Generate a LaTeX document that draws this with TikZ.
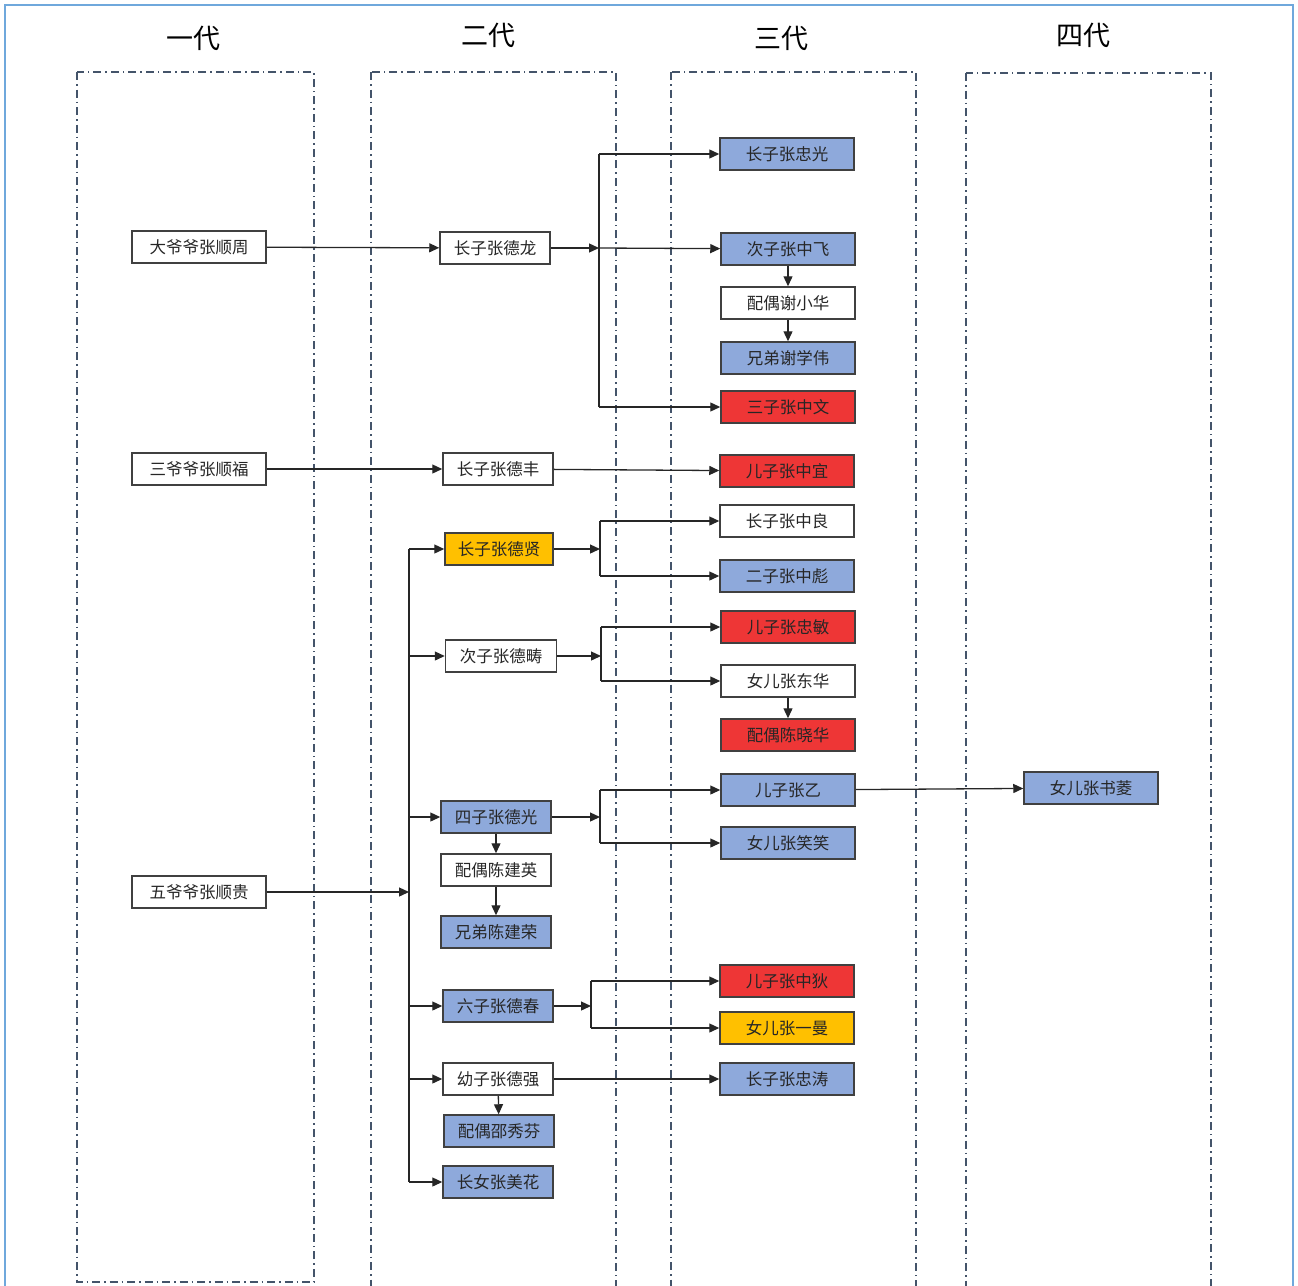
\documentclass[tikz,border=0pt]{standalone}
\usepackage{fontspec}
\setmainfont{Noto Sans CJK SC}
\usetikzlibrary{arrows.meta}
\definecolor{famblue}{HTML}{8EA9DB}
\definecolor{famred}{HTML}{EE3636}
\definecolor{famgold}{HTML}{FFC000}
\definecolor{genline}{HTML}{44546A}
\definecolor{frameblue}{HTML}{6FA8DC}
\begin{document}
\begin{tikzpicture}[x=1pt,y=-1pt,
	person/.style={draw=black!75,line width=1.5pt,minimum height=32pt,inner sep=0pt,text=black!85,font=\fontsize{16.5}{18}\selectfont},
	gen1/.style={person,minimum width=134pt},
	gen2/.style={person,minimum width=110pt},
	gen3/.style={person,minimum width=134pt},
	bluefill/.style={fill=famblue},
	redfill/.style={fill=famred},
	goldfill/.style={fill=famgold},
	genlabel/.style={font=\fontsize{27}{30}\selectfont},
	genbox/.style={genline,line width=1.3pt,dash pattern=on 8pt off 4pt on 1.5pt off 4pt},
	>={Triangle[length=10pt,width=9pt]}]
\useasboundingbox (0,0) rectangle (1298,1285);
\clip (0,0) rectangle (1298,1285);
\draw[frameblue,line width=1.5pt] (5,1300) -- (5,5) -- (1293,5) -- (1293,1300);

\draw[genbox] (77,72) rectangle (314,1282);
\draw[genbox] (371,72) rectangle (616,1310);
\draw[genbox] (671,72) rectangle (916,1310);
\draw[genbox] (966,73) rectangle (1211,1310);

\path (193,38) node[genlabel] (g1) {一代}
		(488,35) node[genlabel] (g2) {二代}
		(781,38) node[genlabel] (g3) {三代}
		(1083,35) node[genlabel] (g4) {四代}
		(199,247) node[gen1] (sz) {大爷爷张顺周}
		(199,469) node[gen1] (sf) {三爷爷张顺福}
		(199,892) node[gen1] (sg) {五爷爷张顺贵}
		(495,248) node[gen2] (dl) {长子张德龙}
		(498,469) node[gen2] (df) {长子张德丰}
		(499,549) node[gen2,goldfill,minimum width=108pt] (dx) {长子张德贤}
		(501,656) node[gen2,minimum width=111pt] (dc) {次子张德畴}
		(496,817) node[gen2,bluefill] (dg) {四子张德光}
		(496,870) node[gen2] (dgw) {配偶陈建英}
		(496,932) node[gen2,bluefill] (dgb) {兄弟陈建荣}
		(498,1006) node[gen2,bluefill] (dch) {六子张德春}
		(498,1079) node[gen2] (dq) {幼子张德强}
		(499,1131) node[gen2,bluefill] (dqw) {配偶邵秀芬}
		(498,1182) node[gen2,bluefill] (mh) {长女张美花}
		(787,154) node[gen3,bluefill] (zg) {长子张忠光}
		(788,249) node[gen3,bluefill] (zf) {次子张中飞}
		(788,303) node[gen3] (zfw) {配偶谢小华}
		(788,358) node[gen3,bluefill] (zfb) {兄弟谢学伟}
		(788,407) node[gen3,redfill] (zw) {三子张中文}
		(787,471) node[gen3,redfill] (zy) {儿子张中宜}
		(787,521) node[gen3] (zl) {长子张中良}
		(787,576) node[gen3,bluefill] (zb) {二子张中彪}
		(788,627) node[gen3,redfill] (zm) {儿子张忠敏}
		(788,681) node[gen3] (dh) {女儿张东华}
		(788,735) node[gen3,redfill] (dhw) {配偶陈晓华}
		(788,790) node[gen3,bluefill] (zyi) {儿子张乙}
		(788,843) node[gen3,bluefill] (xx) {女儿张笑笑}
		(787,981) node[gen3,redfill] (zd) {儿子张中狄}
		(787,1028) node[gen3,goldfill] (ym) {女儿张一曼}
		(787,1079) node[gen3,bluefill] (zt) {长子张忠涛}
		(1091,788) node[gen3,bluefill] (sl) {女儿张书菱}
		;

\coordinate (j1) at (599,248);
\coordinate (j2) at (409,892);
\coordinate (j3) at (600,549);
\coordinate (j4) at (601,656);
\coordinate (j5) at (600,817);
\coordinate (j6) at (591,1006);

\begin{scope}[line width=1.3pt,black!85]
\draw[->] (sz) -- (dl);
\draw[->] (dl) -- (j1);
\draw (j1 |- zg) -- (j1 |- zw);
\draw[->] (j1 |- zg) -- (zg);
\draw[->] (j1) -- (zf);
\draw[->] (j1 |- zw) -- (zw);
\draw[->] (zf) -- (zfw);
\draw[->] (zfw) -- (zfb);

\draw[->] (sf) -- (df);
\draw[->] (df) -- (zy);

\draw[->] (sg) -- (j2);
\draw (j2 |- dx) -- (j2 |- mh);
\draw[->] (j2 |- dx) -- (dx);
\draw[->] (j2 |- dc) -- (dc);
\draw[->] (j2 |- dg) -- (dg);
\draw[->] (j2 |- dch) -- (dch);
\draw[->] (j2 |- dq) -- (dq);
\draw[->] (j2 |- mh) -- (mh);

\draw[->] (dx) -- (j3);
\draw (j3 |- zl) -- (j3 |- zb);
\draw[->] (j3 |- zl) -- (zl);
\draw[->] (j3 |- zb) -- (zb);

\draw[->] (dc) -- (j4);
\draw (j4 |- zm) -- (j4 |- dh);
\draw[->] (j4 |- zm) -- (zm);
\draw[->] (j4 |- dh) -- (dh);
\draw[->] (dh) -- (dhw);

\draw[->] (dg) -- (j5);
\draw (j5 |- zyi) -- (j5 |- xx);
\draw[->] (j5 |- zyi) -- (zyi);
\draw[->] (j5 |- xx) -- (xx);
\draw[->] (dg) -- (dgw);
\draw[->] (dgw) -- (dgb);
\draw[->] (zyi) -- (sl);

\draw[->] (dch) -- (j6);
\draw (j6 |- zd) -- (j6 |- ym);
\draw[->] (j6 |- zd) -- (zd);
\draw[->] (j6 |- ym) -- (ym);

\draw[->] (dq) -- (zt);
\draw[->] (dq) -- (dqw);
\end{scope}
\end{tikzpicture}
\end{document}
